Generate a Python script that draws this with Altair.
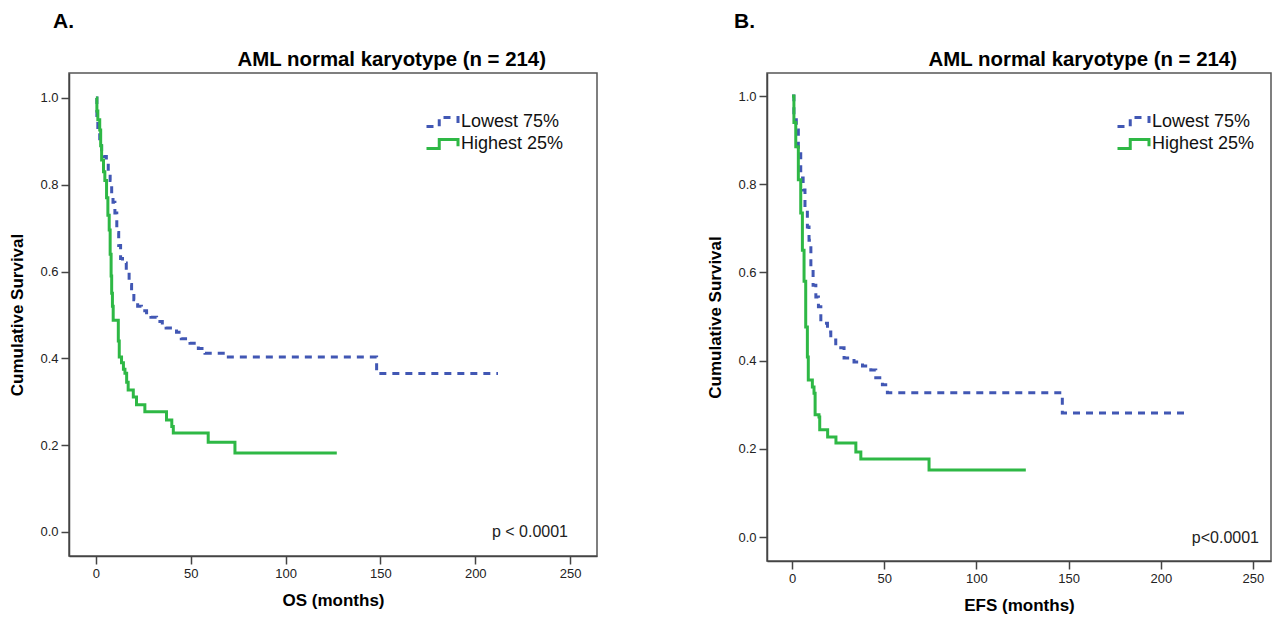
import altair as alt
import pandas as pd

FONT = "Liberation Sans"
GROUPS = ["Lowest 75%", "Highest 25%"]
BLUE = "#4157B4"
GREEN = "#2EB845"

# Panel A (OS) - Kaplan-Meier step points (time in months, cumulative survival)
a_low_t = [0, 0.5, 1, 2, 3, 4, 5.5, 6.5, 7.5, 8.3, 9, 10, 11, 12, 13, 14, 16, 17.5, 18.8, 20, 22, 24,
           26.7, 29, 32, 35, 37, 42.5, 45, 49.6, 54, 57.5, 69, 148, 212]
a_low_s = [1.0, 0.95, 0.92, 0.89, 0.875, 0.865, 0.855, 0.83, 0.81, 0.78, 0.76, 0.735, 0.69, 0.66, 0.63,
           0.62, 0.60, 0.57, 0.55, 0.535, 0.52, 0.51, 0.505, 0.495, 0.485, 0.475, 0.47, 0.46, 0.445,
           0.435, 0.423, 0.412, 0.403, 0.365, 0.365]
a_high_t = [0, 0.5, 1, 2, 2.5, 3, 4, 4.7, 5.6, 6.3, 7, 7.5, 8, 8.3, 8.7, 9.1, 11.8, 12.3, 13.5, 14.5,
            15.3, 16.2, 17, 19.7, 21.4, 25.8, 37.2, 40, 40.8, 59.2, 73.3, 127]
a_high_s = [1.0, 0.97, 0.95, 0.926, 0.89, 0.857, 0.83, 0.81, 0.77, 0.73, 0.696, 0.64, 0.59, 0.55, 0.52,
            0.488, 0.44, 0.403, 0.39, 0.375, 0.366, 0.345, 0.327, 0.311, 0.293, 0.277, 0.258, 0.243,
            0.228, 0.207, 0.182, 0.182]

# Panel B (EFS)
b_low_t = [0, 1, 2.3, 3.4, 4.7, 6, 7, 8.3, 9.2, 10.2, 11.4, 12.9, 14.3, 15.6, 19.2, 21, 23.7, 28.2,
           33.6, 38.2, 42.7, 45.4, 49, 51.7, 146.6, 215]
b_low_s = [1.0, 0.946, 0.923, 0.878, 0.814, 0.787, 0.748, 0.703, 0.673, 0.612, 0.571, 0.544, 0.522,
           0.485, 0.465, 0.447, 0.429, 0.406, 0.397, 0.388, 0.379, 0.361, 0.345, 0.327, 0.281, 0.281]
b_high_t = [0, 1, 2, 3.4, 4.7, 5.6, 6.5, 7.4, 8.3, 8.8, 11, 11.9, 12.5, 14.6, 15, 19.3, 23.8, 34.6,
            37.3, 74.3, 126.8]
b_high_s = [1.0, 0.94, 0.885, 0.81, 0.735, 0.65, 0.58, 0.476, 0.408, 0.356, 0.34, 0.326, 0.277, 0.272,
            0.243, 0.227, 0.213, 0.193, 0.177, 0.152, 0.152]

Y_TICKS = [0.0, 0.2, 0.4, 0.6, 0.8, 1.0]
X_TICKS = [0, 50, 100, 150, 200, 250]
TITLE = "AML normal karyotype (n = 214)"


def km(t, s, g):
    return pd.DataFrame({"t": t, "s": s, "group": g})


def legend(legx, legy):
    return alt.Legend(title=None, orient="none", legendX=legx, legendY=legy,
                      symbolType="M-2.2,0.6H-0.5V-0.6H2V0.3", symbolSize=225,
                      symbolStrokeWidth=3, labelFont=FONT, labelFontSize=18,
                      labelColor="#111", labelOffset=9, rowPadding=0, padding=0)


def label(text, x, y, size, weight="normal", align="left"):
    return alt.Chart(pd.DataFrame({"label": [text]})).mark_text(
        align=align, baseline="alphabetic", font=FONT, fontSize=size, fontWeight=weight,
        color="#000" if weight == "bold" else "#222"
    ).encode(text="label:N", x=alt.value(x), y=alt.value(y))


def panel(low_t, low_s, high_t, high_s, xdom, ydom, w, h, xtitle, letter, letter_x, title_x,
          ptext, px, py, legx, legy):
    df = pd.concat([km(low_t, low_s, GROUPS[0]), km(high_t, high_s, GROUPS[1])], ignore_index=True)
    lines = alt.Chart(df).mark_line(interpolate="step-after", strokeWidth=3, clip=True).encode(
        x=alt.X("t:Q", scale=alt.Scale(domain=xdom, nice=False, zero=False),
                axis=alt.Axis(values=X_TICKS, title=xtitle, format="d")),
        y=alt.Y("s:Q", scale=alt.Scale(domain=ydom, nice=False, zero=False),
                axis=alt.Axis(values=Y_TICKS, title="Cumulative Survival", format=".1f")),
        color=alt.Color("group:N", scale=alt.Scale(domain=GROUPS, range=[BLUE, GREEN]),
                        legend=legend(legx, legy)),
        strokeDash=alt.StrokeDash("group:N", scale=alt.Scale(domain=GROUPS, range=[[7, 6], [1, 0]]),
                                  legend=legend(legx, legy)),
        order="t:Q",
    )
    return alt.layer(
        lines,
        label(ptext, px, py, 16, align="right"),
        label(letter, letter_x, -45, 21, weight="bold"),
        label(TITLE, title_x, -7, 20.4, weight="bold", align="right"),
    ).properties(width=w, height=h)


pa = panel(a_low_t, a_low_s, a_high_t, a_high_s, [-14.2, 264.2], [-0.0553, 1.0576], 528, 483,
           "OS (months)", "A.", -16, 477, "p < 0.0001", 499, 464, 365, 40)
pb = panel(b_low_t, b_low_s, b_high_t, b_high_s, [-13.6, 259.8], [-0.0544, 1.0522], 504, 488,
           "EFS (months)", "B.", -33, 470, "p<0.0001", 492, 470, 358, 40)

chart = alt.hconcat(pa, pb, spacing=108).resolve_scale(
    x="independent", y="independent", color="independent", strokeDash="independent"
).resolve_legend(color="independent", strokeDash="independent").properties(
    padding={"left": 0, "top": 2, "right": 0, "bottom": 0}
).configure_view(stroke="#555", strokeWidth=1.5).configure_axis(
    grid=False, domainColor="#444", domainWidth=1.5, tickColor="#444", tickWidth=1.5, tickSize=8,
    labelFont=FONT, labelFontSize=13, labelColor="#222", labelPadding=3,
    titleFont=FONT, titleFontSize=17, titleFontWeight="bold", titleColor="#000",
).configure_axisY(titlePadding=13).configure_axisX(titlePadding=12)

chart.save("out.html", embed_options={"renderer": "svg", "actions": False})
